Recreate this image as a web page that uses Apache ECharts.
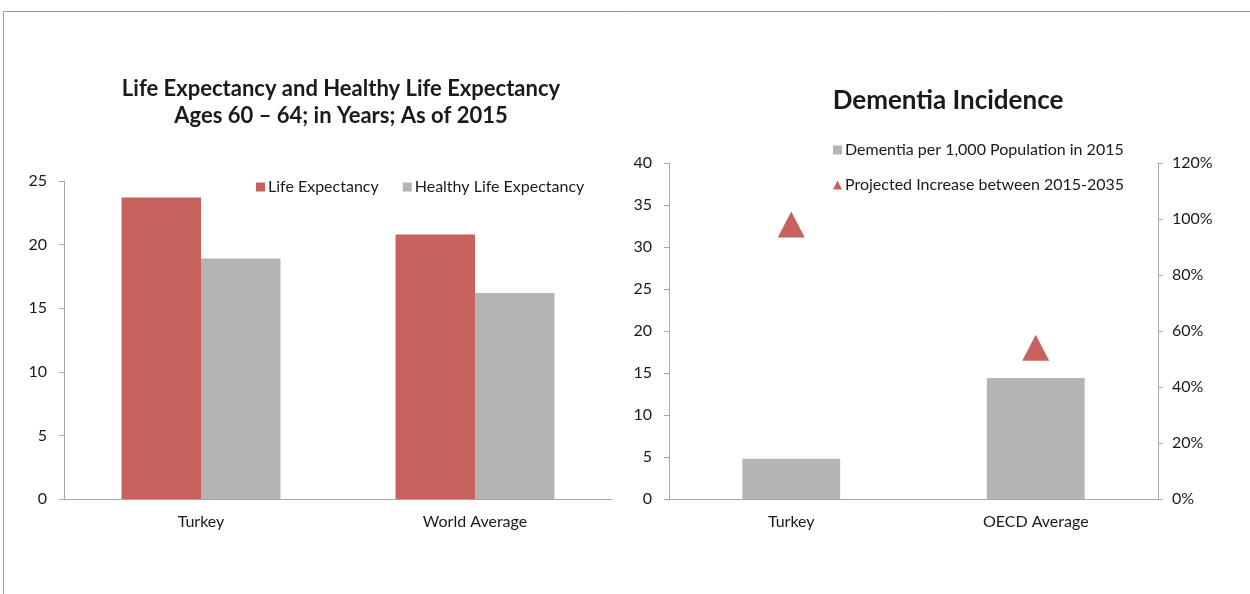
<!DOCTYPE html>
<html><head><meta charset="utf-8">
<script src="https://cdn.jsdelivr.net/npm/echarts@6/dist/echarts.min.js"></script>
<style>html,body{margin:0;padding:0;background:#fff}#c{width:1250px;height:594px}</style>
</head><body><div id="c"></div>
<script>
const leftCategories = ['Turkey', 'World Average'];
const lifeExpectancy = [23.7, 20.8];
const healthyLifeExpectancy = [18.9, 16.2];
const rightCategories = ['Turkey', 'OECD Average'];
const dementiaPer1000 = [4.8, 14.4];
const projectedIncrease = [0.98, 0.54];
const leftTicks = [0, 5, 10, 15, 20, 25];
const rightTicks = [0, 5, 10, 15, 20, 25, 30, 35, 40];
const pctTicks = ['0%', '20%', '40%', '60%', '80%', '100%', '120%'];

const RED = '#C8625F', GRAY = '#B4B4B4', AXIS = '#A6A6A6', TXT = '#1a1a1a';
const FONT = 'Lato';
const chart = echarts.init(document.getElementById('c'));
const axisLbl = {color: TXT, fontSize: 16, fontFamily: FONT};
chart.setOption({
  animation: false,
  textStyle: {fontFamily: FONT},
  graphic: [{type: 'polyline', shape: {points: [[3.5, 594], [3.5, 11.5], [1250, 11.5]]}, style: {stroke: '#9a9a9a', lineWidth: 1, fill: null}}],
  title: [
    {text: 'Life Expectancy and Healthy Life Expectancy\nAges 60 – 64; in Years; As of 2015', left: 336, top: 70, textAlign: 'center',
     textStyle: {fontSize: 22, fontWeight: 'bold', color: TXT, fontFamily: FONT, lineHeight: 27, align: 'center'}},
    {text: 'Dementia Incidence', left: 943, top: 83, textAlign: 'center',
     textStyle: {fontSize: 26, fontWeight: 'bold', color: TXT, fontFamily: FONT}}
  ],
  legend: [
    {data: [{name: 'Life Expectancy', icon: 'rect'}, {name: 'Healthy Life Expectancy', icon: 'rect'}],
     left: 251, top: 174, itemWidth: 9, itemHeight: 9, itemGap: 24,
     textStyle: {fontSize: 16, color: TXT, fontFamily: FONT, padding: [0, 0, 0, -2]}},
    {data: [{name: 'Dementia per 1,000 Population in 2015', icon: 'rect'}, {name: 'Projected Increase between 2015-2035', icon: 'triangle'}],
     orient: 'vertical', left: 828, top: 137, itemWidth: 9, itemHeight: 9, itemGap: 19,
     textStyle: {fontSize: 16, color: TXT, fontFamily: FONT, padding: [0, 0, 0, -2]}}
  ],
  grid: [
    {left: 64, right: 638, top: 181, bottom: 95},
    {left: 669, right: 92, top: 163, bottom: 95}
  ],
  xAxis: [
    {type: 'category', gridIndex: 0, data: leftCategories, axisTick: {show: false},
     axisLine: {lineStyle: {color: AXIS}}, axisLabel: Object.assign({margin: 15}, axisLbl)},
    {type: 'category', gridIndex: 1, data: rightCategories, axisTick: {show: false},
     axisLine: {lineStyle: {color: AXIS}}, axisLabel: Object.assign({margin: 15}, axisLbl)}
  ],
  yAxis: [
    {type: 'value', gridIndex: 0, min: leftTicks[0], max: leftTicks[leftTicks.length - 1], interval: 5,
     axisLine: {show: true, lineStyle: {color: AXIS}}, axisTick: {show: true, length: 5, lineStyle: {color: AXIS}},
     splitLine: {show: false}, axisLabel: Object.assign({margin: 17}, axisLbl)},
    {type: 'value', gridIndex: 1, min: rightTicks[0], max: rightTicks[rightTicks.length - 1], interval: 5,
     axisLine: {show: true, lineStyle: {color: AXIS}}, axisTick: {show: true, length: 5, lineStyle: {color: AXIS}},
     splitLine: {show: false}, axisLabel: Object.assign({margin: 17}, axisLbl)},
    {type: 'value', gridIndex: 1, position: 'right', min: 0, max: 1.2, interval: 0.2,
     axisLine: {show: true, lineStyle: {color: AXIS}}, axisTick: {show: true, length: 5, lineStyle: {color: AXIS}},
     splitLine: {show: false},
     axisLabel: Object.assign({margin: 14, formatter: (v) => pctTicks[Math.round(v / 0.2)]}, axisLbl)}
  ],
  series: [
    {name: 'Life Expectancy', type: 'bar', xAxisIndex: 0, yAxisIndex: 0, data: lifeExpectancy,
     itemStyle: {color: RED}, barGap: '0%', barCategoryGap: '42%'},
    {name: 'Healthy Life Expectancy', type: 'bar', xAxisIndex: 0, yAxisIndex: 0, data: healthyLifeExpectancy,
     itemStyle: {color: GRAY}, barGap: '0%', barCategoryGap: '42%'},
    {name: 'Dementia per 1,000 Population in 2015', type: 'bar', xAxisIndex: 1, yAxisIndex: 1, data: dementiaPer1000,
     itemStyle: {color: GRAY}, barCategoryGap: '60%'},
    {name: 'Projected Increase between 2015-2035', type: 'scatter', xAxisIndex: 1, yAxisIndex: 2, data: projectedIncrease,
     symbol: 'triangle', symbolSize: [27, 26], itemStyle: {color: RED, opacity: 1}}
  ]
});
</script></body></html>
